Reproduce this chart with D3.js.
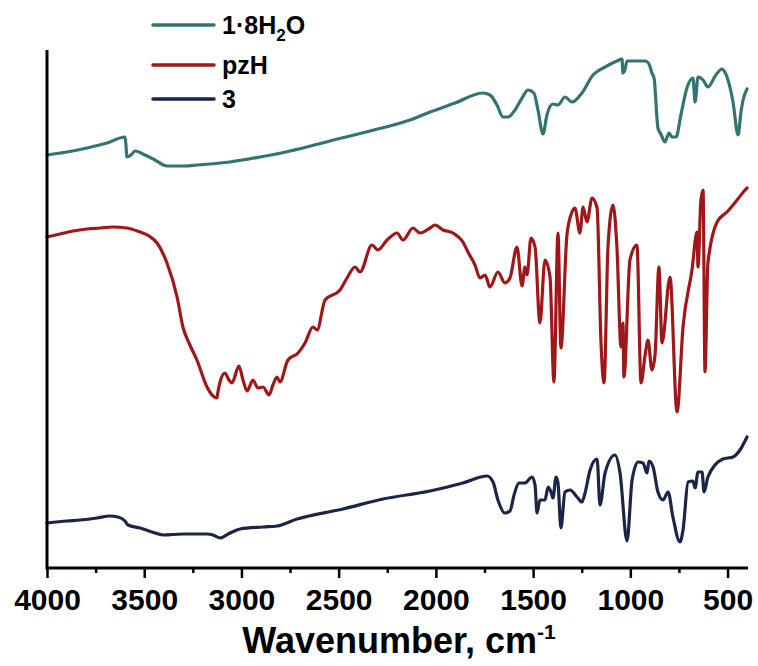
<!DOCTYPE html>
<html>
<head>
<meta charset="utf-8">
<script src="https://cdn.jsdelivr.net/npm/d3@7/dist/d3.min.js"></script>
<style>
  body { margin: 0; background: #fff; }
  svg { display: block; }
  text { font-family: "Liberation Sans", Arial, sans-serif; font-weight: bold; fill: #000; }
</style>
</head>
<body>
<svg id="chart" width="758" height="666"></svg>
<script>
// ---- data (wavenumber in cm-1, transmittance in arbitrary offset units) ----
const seriesNames = ["1·8H2O", "pzH", "3"];

const hydrateWn = [4000,3897,3794,3691,3599,3594,3589,3568,3547,3496,3445,3383,3290,3229,3059,2905,2750,2545,2339,2133,2030,1902,1758,1722,1686,1655,1629,1593,1557,1526,1496,1475,1449,1429,1398,1372,1336,1300,1249,1192,1130,1069,1043,1038,1028,1017,924,904,889,878,858,843,822,801,786,765,740,709,678,667,652,626,601,560,529,514,472,446,431,420,400];
const hydrateT  = [413,416,420,425,431,423,411,413,417,413,408,402,402,403,406,411,417,427,437,448,456,465,475,473,463,451,451,458,470,478,475,458,434,453,464,463,471,466,475,493,501,507,509,495,498,507,507,504,495,490,440,434,426,435,431,431,453,480,490,466,491,488,481,493,499,496,466,433,456,468,479];

const pzhWn = [4000,3933,3866,3794,3727,3661,3589,3522,3475,3434,3383,3331,3301,3265,3229,3177,3146,3126,3121,3110,3085,3064,3049,3013,2992,2971,2941,2915,2889,2858,2838,2817,2802,2761,2709,2673,2632,2611,2570,2493,2457,2416,2390,2329,2298,2251,2200,2169,2118,2082,2030,2005,1963,1912,1861,1835,1799,1773,1747,1722,1681,1645,1619,1583,1557,1542,1531,1511,1490,1465,1439,1413,1393,1372,1357,1326,1300,1285,1259,1243,1223,1197,1171,1151,1135,1115,1089,1069,1048,1038,1033,1002,966,945,924,909,889,873,853,837,796,760,729,683,657,652,637,626,616,601,554,503,451,410,400];
const pzhT  = [331,334,337,339,340,341,340,336,332,325,305,271,241,223,208,181,172,170,176,186,195,188,185,202,188,177,188,180,181,173,183,191,186,208,215,225,241,238,268,278,290,301,296,323,318,328,335,328,340,335,340,343,338,335,326,316,303,290,293,281,296,285,290,321,282,301,293,330,321,245,308,291,186,335,220,333,356,360,335,361,346,370,360,226,185,321,363,321,221,245,191,308,323,185,213,228,198,213,301,225,291,156,241,298,336,301,368,378,196,305,346,356,368,378,380];

const cpdWn = [4000,3897,3830,3743,3676,3635,3599,3583,3522,3460,3403,3301,3177,3146,3110,3059,3007,2889,2817,2714,2478,2272,2030,1861,1737,1706,1681,1645,1619,1598,1573,1542,1506,1490,1480,1465,1439,1423,1408,1398,1382,1372,1357,1336,1310,1274,1249,1233,1207,1171,1156,1130,1079,1053,1017,991,960,935,914,904,883,858,832,806,781,745,729,703,678,667,652,631,621,601,524,472,436,405,400];
const cpdT  = [45,47,48,50,52,51,47,43,40,36,33,34,34,33,30,35,39,41,42,49,59,69,77,85,92,86,68,55,57,73,85,85,91,83,55,68,68,81,76,70,91,85,40,76,78,71,66,75,98,109,63,95,113,95,27,88,106,105,95,107,101,76,68,76,51,26,38,86,87,80,96,96,76,91,109,111,118,129,131];

const seriesColors = ["#347370", "#a0171a", "#1b2549"];
const xTicksMajor = [4000,3500,3000,2500,2000,1500,1000,500];
const xTicksMinor = [3750,3250,2750,2250,1750,1250,750];
const xLabel = "Wavenumber, cm";
const xLabelSup = "-1";

// ---- drawing ----
const svg = d3.select("#chart");
const x = d3.scaleLinear().domain([4000, 400]).range([47, 747]);
const y = d3.scaleLinear().domain([0, 518]).range([568, 50]);

const series = [
  { name: seriesNames[0], wn: hydrateWn, t: hydrateT, color: seriesColors[0] },
  { name: seriesNames[1], wn: pzhWn, t: pzhT, color: seriesColors[1] },
  { name: seriesNames[2], wn: cpdWn, t: cpdT, color: seriesColors[2] }
];

const line = d3.line()
  .x(d => x(d[0]))
  .y(d => y(d[1]))
  .curve(d3.curveMonotoneX);

series.forEach(s => {
  const pts = s.wn.map((w, i) => [w, s.t[i]]);
  svg.append("path")
    .datum(pts)
    .attr("d", line)
    .attr("fill", "none")
    .attr("stroke", s.color)
    .attr("stroke-width", 3.2)
    .attr("stroke-linejoin", "round")
    .attr("stroke-linecap", "round");
});

// x axis (major)
const gx = svg.append("g").attr("transform", "translate(0,568)");
gx.call(d3.axisBottom(x).tickValues(xTicksMajor).tickSize(10).tickSizeOuter(0).tickFormat(d3.format("d")));
gx.select(".domain").remove();
gx.selectAll(".tick line").attr("stroke", "#000").attr("stroke-width", 2.5);
gx.selectAll(".tick text")
  .attr("y", 42).attr("dy", 0)
  .style("font-size", "30px").style("font-weight", "bold")
  .attr("font-family", "Liberation Sans, Arial, sans-serif");
// minor ticks
const gxm = svg.append("g").attr("transform", "translate(0,568)");
gxm.call(d3.axisBottom(x).tickValues(xTicksMinor).tickSize(5).tickFormat(""));
gxm.select(".domain").remove();
gxm.selectAll(".tick line").attr("stroke", "#000").attr("stroke-width", 2.5);

// axis lines
svg.append("line").attr("x1", x(4000)).attr("x2", x(400) + 1).attr("y1", y(0)).attr("y2", y(0))
  .attr("stroke", "#000").attr("stroke-width", 3);
svg.append("line").attr("x1", x(4000)).attr("x2", x(4000)).attr("y1", y(0) + 1.5).attr("y2", y(518))
  .attr("stroke", "#000").attr("stroke-width", 3);

// x label
const xl = svg.append("text")
  .attr("x", 399).attr("y", 653)
  .attr("text-anchor", "middle")
  .style("font-size", "36px");
xl.append("tspan").text(xLabel);
xl.append("tspan").text(xLabelSup).attr("dy", -14).style("font-size", "21px");

// legend
const legY = [25, 65, 99];
series.forEach((s, i) => {
  svg.append("line")
    .attr("x1", 153).attr("x2", 214)
    .attr("y1", legY[i]).attr("y2", legY[i])
    .attr("stroke", s.color).attr("stroke-width", 3.5)
    .attr("stroke-linecap", "round");
  const t = svg.append("text")
    .attr("x", 222).attr("y", legY[i] + 9)
    .style("font-size", "25px");
  if (i === 0) {
    t.append("tspan").text("1·8H");
    t.append("tspan").text("2").attr("dy", 7).style("font-size", "17px");
    t.append("tspan").text("O").attr("dy", -7);
  } else {
    t.text(s.name);
  }
});
</script>
</body>
</html>
